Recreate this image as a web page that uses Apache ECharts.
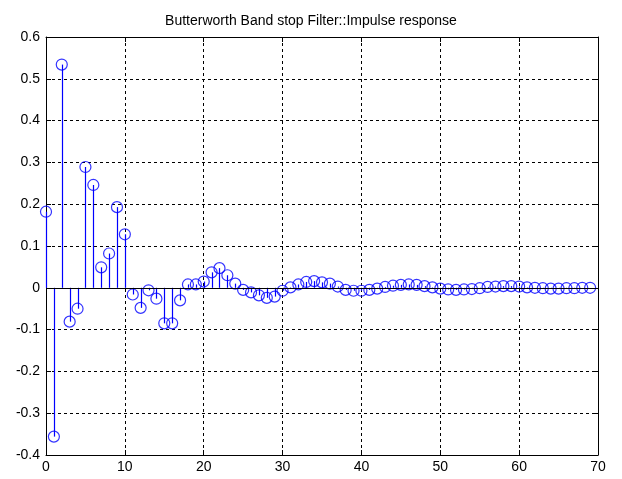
<!DOCTYPE html>
<html><head><meta charset="utf-8">
<script src="https://cdn.jsdelivr.net/npm/echarts@6/dist/echarts.min.js"></script>
<style>html,body{margin:0;padding:0;background:#fff}#c{width:622px;height:479px}</style>
</head><body><div id="c"></div>
<script>
const titleText = 'Butterworth Band stop Filter::Impulse response';
const xTicks = [0,10,20,30,40,50,60,70];
const yTicks = [-0.4,-0.3,-0.2,-0.1,0,0.1,0.2,0.3,0.4,0.5,0.6];
const samples = Array.from({length:70},(_, i)=>i);
const response = [
 0.182,-0.356,0.534,-0.081,-0.050,0.289,0.246,0.049,0.082,0.193,
 0.128,-0.016,-0.048,-0.006,-0.026,-0.085,-0.085,-0.030,0.008,0.008,
 0.015,0.037,0.047,0.030,0.010,-0.005,-0.011,-0.018,-0.024,-0.021,
 -0.007,0.001,0.008,0.014,0.016,0.013,0.010,0.003,-0.005,-0.007,
 -0.007,-0.005,-0.002,0.002,0.005,0.007,0.008,0.007,0.004,0.001,
 -0.002,-0.004,-0.005,-0.004,-0.003,-0.001,0.002,0.003,0.004,0.004,
 0.003,0.001,0.000,-0.001,-0.002,-0.002,-0.001,-0.001,0.000,0.000
];
const pts = samples.map((n,i)=>[n,response[i]]);
const font = 'Liberation Sans, Arial, sans-serif';
const chart = echarts.init(document.getElementById('c'));
const axisCommon = {
  axisLine:{show:true,onZero:false,lineStyle:{color:'#000',width:1}},
  axisTick:{show:true,inside:true,length:5,lineStyle:{color:'#000'}},
};
chart.setOption({
  animation:false,
  color:['#0000ff'],
  title:{text:titleText,left:'center',top:9,textStyle:{fontFamily:font,fontSize:14,fontWeight:'normal',color:'#000'}},
  grid:{left:46,right:24,top:37,bottom:24,show:false},
  xAxis:[
    Object.assign({type:'value',min:0,max:70,interval:10,position:'bottom',
      axisLabel:{color:'#000',fontFamily:font,fontSize:14,margin:5},
      splitLine:{show:true,lineStyle:{color:'#000',type:[3,3],width:1}}},axisCommon),
    Object.assign({type:'value',min:0,max:70,interval:10,position:'top',
      axisLabel:{show:false},splitLine:{show:false}},axisCommon)
  ],
  yAxis:[
    Object.assign({type:'value',min:-0.4,max:0.6,interval:0.1,position:'left',
      axisLabel:{color:'#000',fontFamily:font,fontSize:14,margin:6,formatter:v=>String(Math.round(v*10)/10)},
      splitLine:{show:true,lineStyle:{color:'#000',type:[3,3],width:1}}},axisCommon),
    Object.assign({type:'value',min:-0.4,max:0.6,interval:0.1,position:'right',
      axisLabel:{show:false},splitLine:{show:false}},axisCommon)
  ],
  series:[
    {type:'custom',xAxisIndex:0,yAxisIndex:0,data:pts,z:3,
     itemStyle:{color:'#0000ff'},
     renderItem:(params,api)=>{
       const p0=api.coord([api.value(0),0]);
       const p1=api.coord([api.value(0),api.value(1)]);
       const x=Math.round(p0[0])+0.5;
       return {type:'line',shape:{x1:x,y1:p0[1],x2:x,y2:p1[1]},style:{stroke:'#0000ff',lineWidth:1.2}};
     },
     markLine:{silent:true,symbol:'none',label:{show:false},lineStyle:{color:'#000',type:'solid',width:1},
       data:[[{coord:[0,0]},{coord:[70,0]}]]}
    },
    {type:'scatter',xAxisIndex:0,yAxisIndex:0,data:pts,z:4,symbol:'circle',symbolSize:11,
     itemStyle:{color:'rgba(0,0,0,0)',borderColor:'#0000ff',borderWidth:1.2}}
  ]
});
</script></body></html>
